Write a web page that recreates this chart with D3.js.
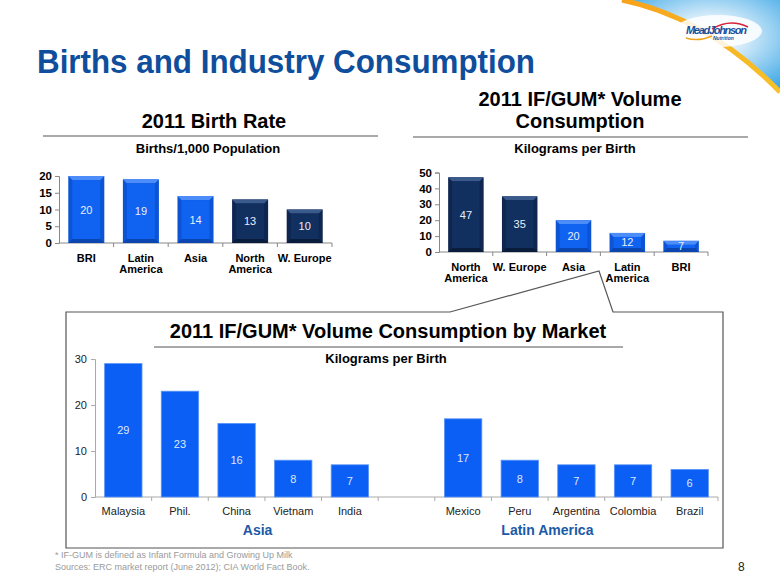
<!DOCTYPE html>
<html><head><meta charset="utf-8">
<script src="https://cdn.jsdelivr.net/npm/d3@7"></script>
<style>
html,body{margin:0;padding:0;background:#fff;}
svg{display:block;font-family:"Liberation Sans",Arial,sans-serif;}
</style></head><body>
<svg id="c" width="780" height="585"></svg>
<script>
// ---- data ----
const birthCats = ["BRI", "Latin America", "Asia", "North America", "W. Europe"];
const birthVals = [20, 19, 14, 13, 10];
const birthTicks = [0, 5, 10, 15, 20];

const volCats = ["North America", "W. Europe", "Asia", "Latin America", "BRI"];
const volVals = [47, 35, 20, 12, 7];
const volTicks = [0, 10, 20, 30, 40, 50];

const developed = ["North America", "W. Europe"];

const asiaMarkets = ["Malaysia", "Phil.", "China", "Vietnam", "India"];
const asiaVals = [29, 23, 16, 8, 7];
const latamMarkets = ["Mexico", "Peru", "Argentina", "Colombia", "Brazil"];
const latamVals = [17, 8, 7, 7, 6];
const marketTicks = [0, 10, 20, 30];

const svg = d3.select("#c");
const defs = svg.append("defs");

// ---- decorative top-right sky + logo ----
const rg = defs.append("radialGradient").attr("id","sky").attr("cx","0.55").attr("cy","0.4").attr("r","0.75");
rg.append("stop").attr("offset","0").attr("stop-color","#ffffff");
rg.append("stop").attr("offset","0.3").attr("stop-color","#d6ecfa");
rg.append("stop").attr("offset","1").attr("stop-color","#2a9fe4");
svg.append("path").attr("d","M622,0 Q708,18 780,92 L780,0 Z").attr("fill","url(#sky)");
const og = defs.append("linearGradient").attr("id","orng").attr("x1","0").attr("x2","1");
og.append("stop").attr("offset","0").attr("stop-color","#f7a21b");
og.append("stop").attr("offset","1").attr("stop-color","#f6c12a");
svg.append("path").attr("d","M622,0 Q708,18 780,92").attr("fill","none").attr("stroke","url(#orng)").attr("stroke-width",5);
svg.append("ellipse").attr("cx",718).attr("cy",31).attr("rx",44).attr("ry",16).attr("fill","#ffffff").attr("opacity",0.85);
svg.append("path").attr("d","M712,29 Q730,18 748,27").attr("fill","none").attr("stroke","#d8203a").attr("stroke-width",1.5);
svg.append("text").attr("x",686).attr("y",34).attr("font-size",11).attr("font-weight","bold").attr("font-style","italic")
  .attr("fill","#1b4f9c").attr("textLength",61).text("MeadJohnson");
svg.append("text").attr("x",713).attr("y",40).attr("font-size",5).attr("font-weight","bold").attr("font-style","italic")
  .attr("fill","#1b4f9c").text("Nutrition");
svg.append("path").attr("d","M686,38 Q698,42 712,36").attr("fill","none").attr("stroke","#f2a31c").attr("stroke-width",1.5);

// ---- main title ----
svg.append("text").attr("x",37).attr("y",73).attr("font-size",33).attr("font-weight","bold")
  .attr("fill","#0f4e9c").attr("textLength",498).attr("lengthAdjust","spacingAndGlyphs")
  .text("Births and Industry Consumption");

// ---- bevel colours ----
function bevelColors(dark){
  return dark ? {base:"#12305f", light:"#3a5a8c", dark:"#0a1c3c", side:"#0e2650"}
              : {base:"#0f63f0", light:"#4d8dfa", dark:"#0a45b0", side:"#0c54d4"};
}

function bevelChart(g, cats, vals, ticks, x0, x1, yTop, yBot, vmax){
  const x = d3.scaleBand().domain(cats).range([x0,x1]).paddingInner(0.34).paddingOuter(0.17);
  const y = d3.scaleLinear().domain([0,vmax]).range([yBot,yTop]);
  const ya = d3.axisLeft(y).tickValues(ticks).tickSize(4).tickPadding(3);
  const gy = g.append("g").attr("transform",`translate(${x0},0)`).call(ya);
  gy.selectAll("text").attr("font-size",11.5).attr("font-weight","bold").attr("fill","#000");
  gy.selectAll("line,path").attr("stroke","#888");
  const xa = d3.scaleBand().domain(cats).range([x0,x1]);
  const gx = g.append("g").attr("transform",`translate(0,${yBot})`);
  gx.append("line").attr("x1",x0).attr("x2",x1).attr("stroke","#888");
  gx.selectAll("line.t").data(cats.map((c,i)=>i+1)).enter().append("line")
    .attr("x1",i=>x0+i*xa.bandwidth()).attr("x2",i=>x0+i*xa.bandwidth()).attr("y1",0).attr("y2",4).attr("stroke","#888");
  const bw = x.bandwidth(), e = 4;
  cats.forEach((c,i)=>{
    const col = bevelColors(developed.includes(c));
    const bx = x(c), by = y(vals[i]), bh = y(0)-y(vals[i]);
    const bar = g.append("g");
    bar.append("rect").attr("x",bx).attr("y",by).attr("width",bw).attr("height",bh).attr("fill",col.side);
    bar.append("path").attr("d",`M${bx},${by}L${bx+bw},${by}L${bx+bw-e},${by+e}L${bx+e},${by+e}Z`).attr("fill",col.light);
    bar.append("path").attr("d",`M${bx},${by+bh}L${bx+bw},${by+bh}L${bx+bw-e},${by+bh-e}L${bx+e},${by+bh-e}Z`).attr("fill",col.dark);
    bar.append("rect").attr("x",bx+e).attr("y",by+e).attr("width",bw-2*e).attr("height",Math.max(0,bh-2*e)).attr("fill",col.base);
    bar.append("text").attr("x",bx+bw/2).attr("y",by+bh/2+4).attr("text-anchor","middle")
      .attr("font-size",11).attr("fill","#e8eefc").text(vals[i]);
  });
  cats.forEach(c=>{
    const cx = xa(c)+xa.bandwidth()/2;
    const parts = (c==="Latin America")?["Latin","America"]:(c==="North America")?["North","America"]:[c];
    const t = g.append("text").attr("x",cx).attr("y",yBot+19).attr("text-anchor","middle")
      .attr("font-size",11).attr("font-weight","bold").attr("fill","#000");
    parts.forEach((p,k)=>t.append("tspan").attr("x",cx).attr("dy",k?11:0).text(p));
  });
}

// ---- left chart ----
const gl = svg.append("g");
gl.append("text").attr("x",214).attr("y",128).attr("text-anchor","middle").attr("font-size",20).attr("font-weight","bold").text("2011 Birth Rate");
gl.append("line").attr("x1",43).attr("x2",378).attr("y1",136).attr("y2",136).attr("stroke","#555").attr("stroke-width",1.2);
gl.append("text").attr("x",208).attr("y",153).attr("text-anchor","middle").attr("font-size",13).attr("font-weight","bold").text("Births/1,000 Population");
bevelChart(gl, birthCats, birthVals, birthTicks, 59, 332, 176, 243, 20);

// ---- right chart ----
const gr = svg.append("g");
gr.append("text").attr("x",580).attr("y",106).attr("text-anchor","middle").attr("font-size",20).attr("font-weight","bold").text("2011 IF/GUM* Volume");
gr.append("text").attr("x",580).attr("y",128).attr("text-anchor","middle").attr("font-size",20).attr("font-weight","bold").text("Consumption");
gr.append("line").attr("x1",413).attr("x2",748).attr("y1",137).attr("y2",137).attr("stroke","#555").attr("stroke-width",1.2);
gr.append("text").attr("x",575).attr("y",153).attr("text-anchor","middle").attr("font-size",13).attr("font-weight","bold").text("Kilograms per Birth");
bevelChart(gr, volCats, volVals, volTicks, 439, 708, 172.5, 252, 50);

// ---- callout box ----
svg.append("path").attr("d","M66,312 L450,312 L599,271 L613,312 L723,312 L723,548 L66,548 Z")
  .attr("fill","#fff").attr("stroke","#555").attr("stroke-width",1.2);

// ---- bottom chart ----
const gb = svg.append("g");
gb.append("text").attr("x",388).attr("y",338).attr("text-anchor","middle").attr("font-size",20).attr("font-weight","bold").text("2011 IF/GUM* Volume Consumption by Market");
gb.append("line").attr("x1",154).attr("x2",623).attr("y1",347).attr("y2",347).attr("stroke","#555").attr("stroke-width",1.2);
gb.append("text").attr("x",386).attr("y",363).attr("text-anchor","middle").attr("font-size",13).attr("font-weight","bold").text("Kilograms per Birth");

const allMarkets = asiaMarkets.concat([""], latamMarkets);
const allVals = asiaVals.concat([null], latamVals);
const bx0 = 95, bx1 = 718, byTop = 359, byBot = 497;
const xm = d3.scaleBand().domain(allMarkets).range([bx0,bx1]);
const ym = d3.scaleLinear().domain([0,30]).range([byBot,byTop]);
const bwid = xm.bandwidth()*0.66;
const gya = gb.append("g").attr("transform",`translate(${bx0},0)`).call(d3.axisLeft(ym).tickValues(marketTicks).tickSize(4).tickPadding(4));
gya.selectAll("text").attr("font-size",11).attr("fill","#222");
gya.selectAll("line,path").attr("stroke","#aaa");
gb.append("line").attr("x1",bx0).attr("x2",bx1).attr("y1",byBot).attr("y2",byBot).attr("stroke","#aaa");
gb.selectAll("line.xt").data(d3.range(1,allMarkets.length+1)).enter().append("line")
  .attr("x1",i=>bx0+i*xm.bandwidth()).attr("x2",i=>bx0+i*xm.bandwidth()).attr("y1",byBot).attr("y2",byBot+4).attr("stroke","#aaa");
allMarkets.forEach((m,i)=>{
  if(!m) return;
  const cx = xm(m)+xm.bandwidth()/2;
  gb.append("rect").attr("x",cx-bwid/2).attr("y",ym(allVals[i])).attr("width",bwid).attr("height",ym(0)-ym(allVals[i]))
    .attr("fill","#0b5ff5").attr("stroke","#5b95f7").attr("stroke-width",0.8);
  gb.append("text").attr("x",cx).attr("y",(ym(allVals[i])+ym(0))/2+4).attr("text-anchor","middle").attr("font-size",11).attr("fill","#dfe8fb").text(allVals[i]);
  gb.append("text").attr("x",cx).attr("y",byBot+18).attr("text-anchor","middle").attr("font-size",11).attr("fill","#222").text(m);
});
// group labels (offset from the middle market of each group, as in the original)
const asiaX = xm(asiaMarkets[2]) + xm.bandwidth()/2 + 21;
const latX = xm(latamMarkets[2]) + xm.bandwidth()/2 - 29;
gb.append("text").attr("x",asiaX).attr("y",535).attr("text-anchor","middle").attr("font-size",14).attr("font-weight","bold").attr("fill","#1a5aa6").text("Asia");
gb.append("text").attr("x",latX).attr("y",535).attr("text-anchor","middle").attr("font-size",14).attr("font-weight","bold").attr("fill","#1a5aa6").text("Latin America");

// ---- footnotes ----
svg.append("text").attr("x",55).attr("y",558).attr("font-size",9).attr("fill","#9a9a9a").text("* IF-GUM is defined as Infant Formula and Growing Up Milk");
svg.append("text").attr("x",55).attr("y",570).attr("font-size",9).attr("fill","#9a9a9a").text("Sources: ERC market report (June 2012); CIA World Fact Book.");
svg.append("text").attr("x",738).attr("y",571).attr("font-size",12).attr("fill","#222").text("8");
</script>
</body></html>
